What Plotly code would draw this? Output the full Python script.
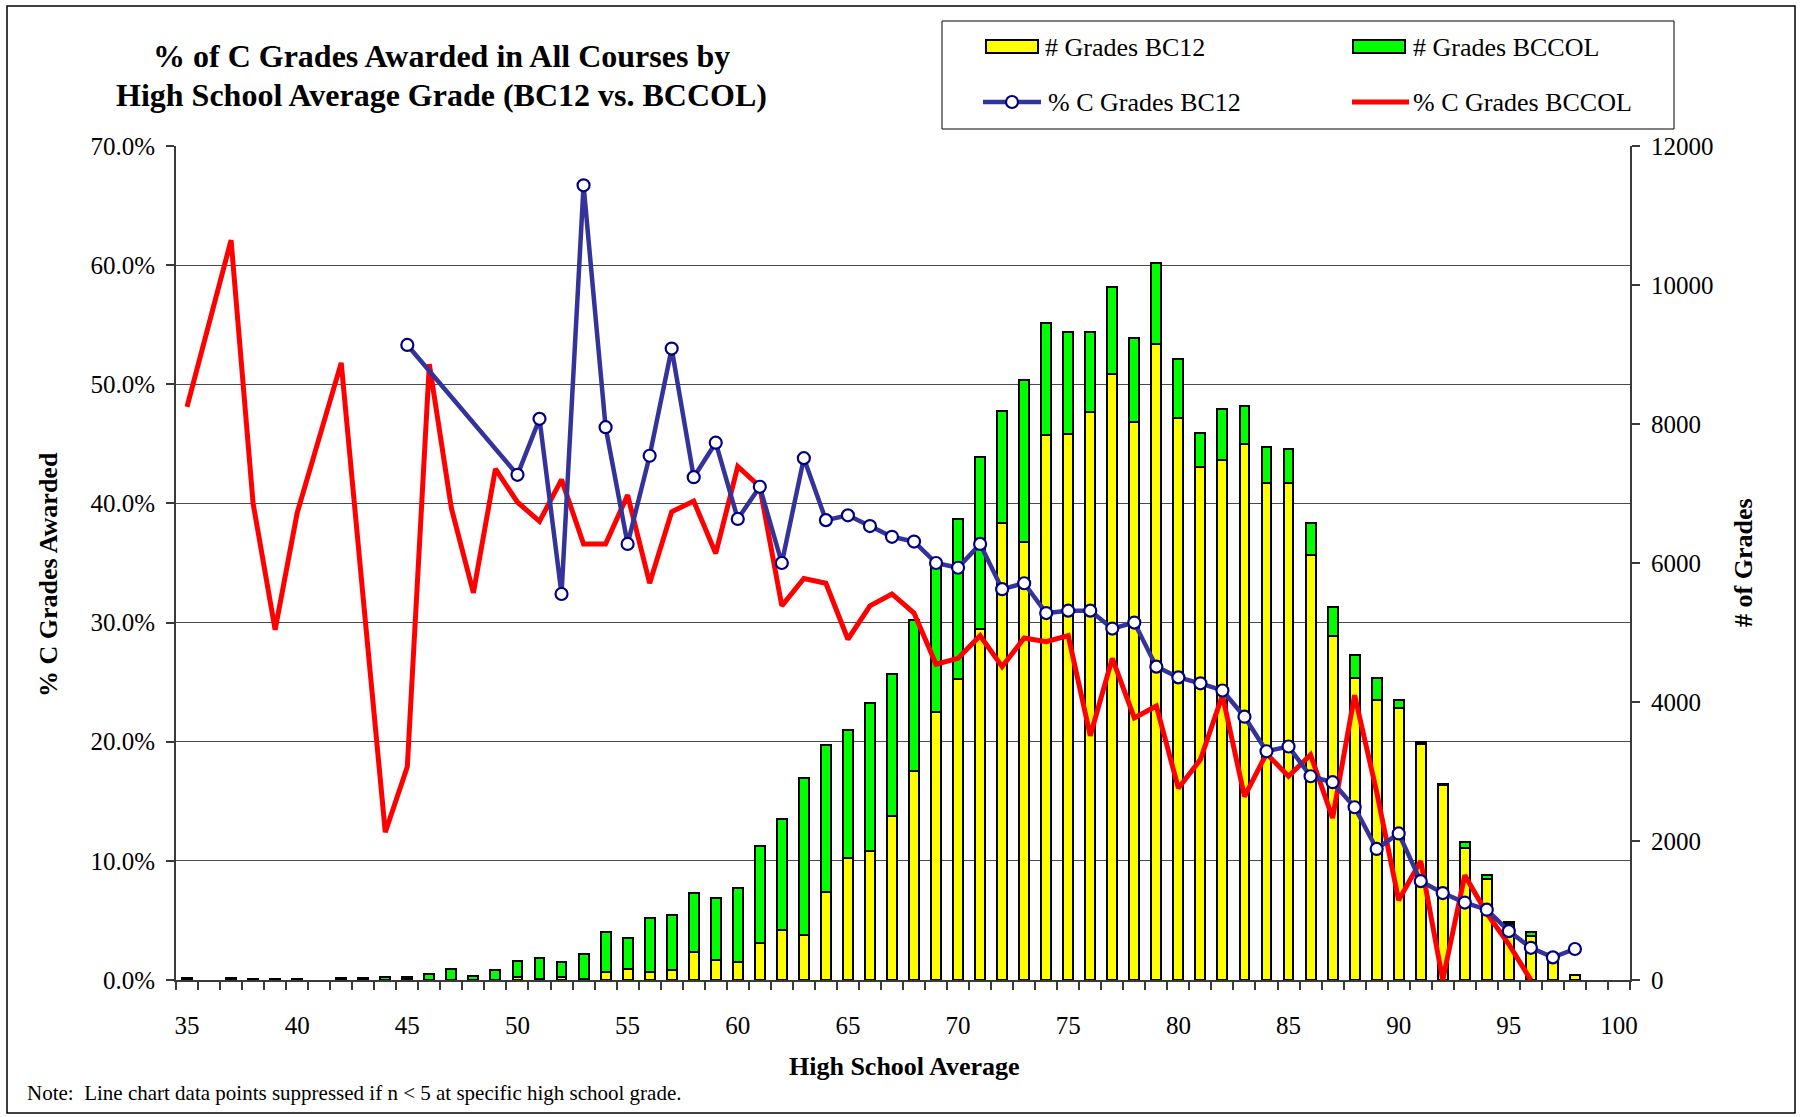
import plotly.graph_objects as go

# ---------------- data ----------------
grades = list(range(35, 101))

bc12_count = [None, None, None, None, None, None, None, None, None, None,
              8, 3, 2, 2, 3, 40, 20, 40, 10, 115,
              165, 115, 140, 410, 283, 259, 537, 719, 642, 1265,
              1749, 1855, 2358, 3005, 3855, 4331, 5049, 6574, 6296, 7844,
              7858, 8179, 8720, 8025, 9152, 8090, 7376, 7484, 7710, 7149,
              7149, 6118, 4944, 4345, 4033, 3913, 3400, 2810, 1903, 1457,
              800, 633, 355, 79, None, None]

bccol_count = [30, None, 25, 10, 20, 20, None, 25, 35, 40,
               42, 77, 158, 58, 142, 240, 290, 215, 370, 570,
               445, 775, 790, 840, 896, 1069, 1390, 1591, 2263, 2119,
               1855, 2135, 2052, 2170, 2145, 2300, 2483, 1620, 2338, 1615,
               1472, 1151, 1247, 1218, 1170, 842, 492, 738, 551, 518,
               489, 456, 422, 326, 312, 111, 20, 16, 81, 48,
               39, 57, None, None, None, None]

bc12_pct = [None, None, None, None, None, None, None, None, None, None,
            53.3, None, None, None, None, 42.4, 47.1, 32.4, 66.7, 46.4,
            36.6, 44.0, 53.0, 42.2, 45.1, 38.7, 41.4, 35.0, 43.8, 38.6,
            39.0, 38.1, 37.2, 36.8, 35.0, 34.6, 36.6, 32.8, 33.3, 30.8,
            31.0, 31.0, 29.5, 30.0, 26.3, 25.4, 24.9, 24.3, 22.1, 19.2,
            19.6, 17.1, 16.6, 14.5, 11.0, 12.3, 8.3, 7.3, 6.5, 5.9,
            4.1, 2.7, 1.9, 2.6, None, None]

bccol_pct = [48.1, None, 62.1, 40.0, 29.4, 39.2, None, 51.8, 32.0, 12.4,
             17.9, 51.7, 39.6, 32.5, 42.9, 40.1, 38.5, 42.0, 36.6, 36.6,
             40.7, 33.3, 39.3, 40.2, 35.8, 43.1, 41.4, 31.4, 33.7, 33.3,
             28.6, 31.4, 32.4, 30.8, 26.5, 27.0, 28.9, 26.3, 28.7, 28.4,
             28.9, 20.5, 27.0, 22.0, 23.0, 16.1, 18.5, 23.9, 15.4, 19.0,
             17.1, 18.9, 13.6, 23.9, 15.8, 6.7, 10.0, 0.0, 8.8, 5.6,
             3.0, 0.0, None, None, None, None]

x_tick_vals = list(range(35, 101, 5))
x_tick_text = [str(v) for v in x_tick_vals]

series_names = ["# Grades BC12", "# Grades BCCOL", "% C Grades BC12", "% C Grades BCCOL"]

# ---------------- layout geometry (pixels) ----------------
W, H = 1801, 1117
L, R, T, B = 176, 171, 146, 137
PW = W - L - R
PH = H - T - B


def PX(x):
    return (x - L) / PW


def PY(y):
    return (H - B - y) / PH


FONT = "Liberation Serif"
YELLOW = "#FFFF00"
GREEN = "#00FF00"
BLUE = "#333399"
NAVY = "#000080"
RED = "#FF0000"
AXIS = "#3a3a3a"

fig = go.Figure()

fig.add_trace(go.Bar(x=grades, y=bc12_count, name=series_names[0], yaxis="y",
                     marker=dict(color=YELLOW, line=dict(color="black", width=2)),
                     showlegend=False))
fig.add_trace(go.Bar(x=grades, y=bccol_count, name=series_names[1], yaxis="y",
                     marker=dict(color=GREEN, line=dict(color="black", width=2)),
                     showlegend=False))
fig.add_trace(go.Scatter(x=grades, y=bccol_pct, name=series_names[3], yaxis="y2",
                         mode="lines", connectgaps=True,
                         line=dict(color=RED, width=5), showlegend=False))
fig.add_trace(go.Scatter(x=grades, y=bc12_pct, name=series_names[2], yaxis="y2",
                         mode="lines+markers", connectgaps=True,
                         line=dict(color=BLUE, width=4.5),
                         marker=dict(symbol="circle", size=12, color="white",
                                     line=dict(color=NAVY, width=2.2)),
                         showlegend=False))

tickfont = dict(family=FONT, size=25, color="black")

fig.update_layout(
    width=W, height=H,
    margin=dict(l=L, r=R, t=T, b=B, pad=0),
    paper_bgcolor="white", plot_bgcolor="white",
    font=dict(family=FONT, color="black"),
    barmode="stack", bargap=0.55,
    showlegend=False,
    xaxis=dict(range=[34.5, 100.5], tickmode="array", tickvals=x_tick_vals,
               ticktext=x_tick_text, ticks="", showgrid=False, zeroline=False,
               showline=True, linecolor=AXIS, linewidth=2, tickfont=tickfont,
               ticklabelstandoff=22,
               minor=dict(ticks="outside", tick0=34.5, dtick=1, ticklen=8,
                          tickcolor=AXIS, tickwidth=1.5, showgrid=False)),
    yaxis=dict(range=[0, 12000], tickmode="linear", tick0=0, dtick=2000,
               side="right", showgrid=False, zeroline=False, showline=True,
               linecolor=AXIS, linewidth=2, ticks="outside", ticklen=8,
               tickcolor=AXIS, tickwidth=1.5, tickfont=tickfont,
               tickformat="d", ticklabelstandoff=6),
    yaxis2=dict(range=[0, 70], tickmode="linear", tick0=0, dtick=10,
                overlaying="y", side="left", showgrid=True,
                gridcolor="#4a4a4a", gridwidth=1, zeroline=False,
                showline=True, linecolor=AXIS, linewidth=2, ticks="outside",
                ticklen=8, tickcolor=AXIS, tickwidth=1.5, tickfont=tickfont,
                tickformat=".1f", ticksuffix="%", ticklabelstandoff=6),
)

ann = []
# title
ann.append(dict(text="<b>% of C Grades Awarded in All Courses by</b>", x=PX(441), y=PY(56),
                xref="paper", yref="paper", xanchor="center", yanchor="middle",
                showarrow=False, font=dict(family=FONT, size=32, color="black")))
ann.append(dict(text="<b>High School Average Grade (BC12 vs. BCCOL)</b>", x=PX(441), y=PY(95),
                xref="paper", yref="paper", xanchor="center", yanchor="middle",
                showarrow=False, font=dict(family=FONT, size=32, color="black")))
# axis titles
ann.append(dict(text="<b>% C Grades Awarded</b>", x=PX(48), y=PY(575), textangle=-90,
                xref="paper", yref="paper", xanchor="center", yanchor="middle",
                showarrow=False, font=dict(family=FONT, size=26, color="black")))
ann.append(dict(text="<b># of Grades</b>", x=PX(1743), y=PY(563), textangle=-90,
                xref="paper", yref="paper", xanchor="center", yanchor="middle",
                showarrow=False, font=dict(family=FONT, size=26, color="black")))
ann.append(dict(text="<b>High School Average</b>", x=PX(904), y=PY(1066),
                xref="paper", yref="paper", xanchor="center", yanchor="middle",
                showarrow=False, font=dict(family=FONT, size=26, color="black")))
# note
ann.append(dict(text="Note:\u00a0 Line chart data points suppressed if n &lt; 5 at specific high school grade.",
                x=PX(25), y=PY(1093), xref="paper", yref="paper",
                xanchor="left", yanchor="middle", showarrow=False,
                font=dict(family=FONT, size=21, color="black")))

# legend texts
leg_font = dict(family=FONT, size=26, color="black")
legend_rows = [(47, [(1043, series_names[0]), (1411, series_names[1])]),
               (102, [(1046, series_names[2]), (1411, series_names[3])])]
for yy, items in legend_rows:
    for xx, txt in items:
        ann.append(dict(text=txt, x=PX(xx), y=PY(yy), xref="paper", yref="paper",
                        xanchor="left", yanchor="middle", showarrow=False, font=leg_font))

shapes = []
# outer chart border
shapes.append(dict(type="rect", xref="paper", yref="paper", x0=PX(7), x1=PX(1795),
                   y0=PY(1113), y1=PY(6), line=dict(color="black", width=1.5),
                   fillcolor="rgba(0,0,0,0)", layer="below"))
# legend box
shapes.append(dict(type="rect", xref="paper", yref="paper", x0=PX(942), x1=PX(1674),
                   y0=PY(129), y1=PY(21), line=dict(color="black", width=1),
                   fillcolor="white"))
# legend swatches
shapes.append(dict(type="rect", xref="paper", yref="paper", x0=PX(986), x1=PX(1038),
                   y0=PY(53), y1=PY(40), line=dict(color="black", width=2), fillcolor=YELLOW))
shapes.append(dict(type="rect", xref="paper", yref="paper", x0=PX(1353), x1=PX(1405),
                   y0=PY(53), y1=PY(40), line=dict(color="black", width=2), fillcolor=GREEN))
shapes.append(dict(type="line", xref="paper", yref="paper", x0=PX(983), x1=PX(1041),
                   y0=PY(102), y1=PY(102), line=dict(color=BLUE, width=4.5)))
shapes.append(dict(type="circle", xref="paper", yref="paper", x0=PX(1006), x1=PX(1018),
                   y0=PY(108), y1=PY(96), line=dict(color=NAVY, width=2.2), fillcolor="white"))
shapes.append(dict(type="line", xref="paper", yref="paper", x0=PX(1352), x1=PX(1409),
                   y0=PY(102), y1=PY(102), line=dict(color=RED, width=5)))

fig.update_layout(annotations=ann, shapes=shapes)

fig.write_html("out.html", config={"displayModeBar": False},
               post_script="document.body.style.margin='0px';")
